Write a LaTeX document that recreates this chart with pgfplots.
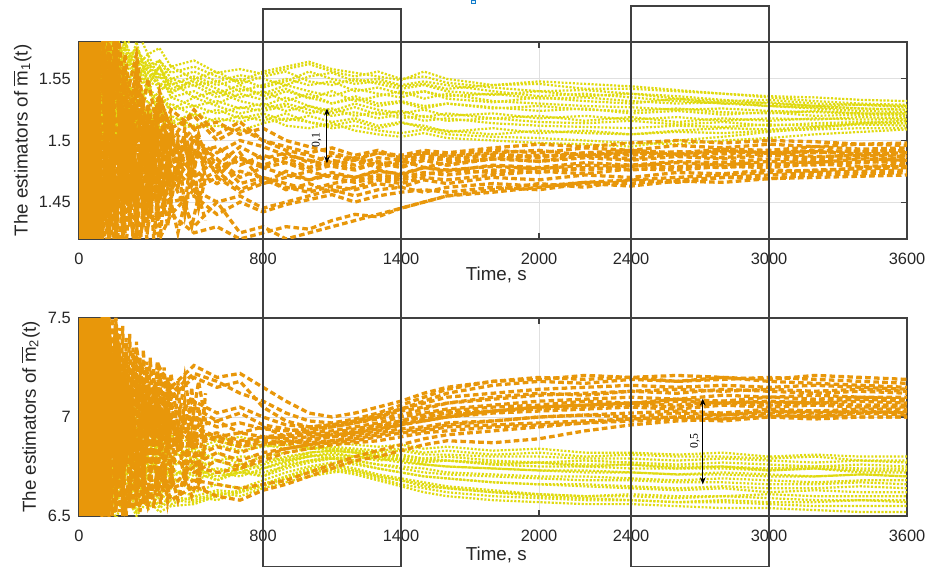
\documentclass[border=0pt]{standalone}
\usepackage{fontspec}
\setmainfont{Liberation Sans}
\newfontfamily\serif{Liberation Serif}
\usepackage{pgfplots}
\usepackage{pgfplotstable}
\pgfplotsset{compat=1.18}
\usetikzlibrary{arrows.meta}

\definecolor{yel}{HTML}{E0DA10}
\definecolor{org}{HTML}{E8970A}
\definecolor{frame}{HTML}{404040}

% one row per simulated estimator, one column per time (s)
\pgfplotstableread[header=has colnames]{
name 100 130 160 200 250 300 350 400 500 600 700 800 900 1000 1100 1200 1300 1400 1500 1600 1800 2000 2200 2400 2600 2800 3000 3200 3400 3600
a 1.60 1.57 1.59 1.56 1.575 1.56 1.565 1.555 1.56 1.552 1.548 1.556 1.560 1.564 1.558 1.555 1.552 1.549 1.556 1.550 1.545 1.546 1.542 1.542 1.540 1.538 1.535 1.532 1.530 1.529
b 1.55 1.585 1.55 1.575 1.55 1.565 1.545 1.55 1.545 1.548 1.540 1.545 1.550 1.545 1.548 1.540 1.543 1.538 1.540 1.536 1.538 1.534 1.535 1.532 1.530 1.531 1.528 1.527 1.526 1.525
c 1.58 1.54 1.57 1.545 1.56 1.54 1.555 1.535 1.54 1.530 1.538 1.533 1.540 1.535 1.530 1.536 1.530 1.532 1.528 1.530 1.526 1.528 1.525 1.524 1.526 1.523 1.522 1.524 1.522 1.521
d 1.52 1.56 1.53 1.55 1.525 1.545 1.52 1.53 1.52 1.525 1.518 1.522 1.516 1.520 1.515 1.518 1.512 1.515 1.510 1.508 1.505 1.508 1.506 1.505 1.508 1.510 1.509 1.511 1.513 1.512
e 1.57 1.60 1.565 1.58 1.55 1.56 1.54 1.548 1.535 1.54 1.532 1.528 1.535 1.528 1.524 1.530 1.525 1.522 1.525 1.520 1.522 1.518 1.520 1.517 1.519 1.516 1.518 1.517 1.519 1.518
f 1.50 1.535 1.51 1.53 1.515 1.525 1.51 1.52 1.512 1.518 1.515 1.520 1.512 1.510 1.514 1.508 1.505 1.503 1.506 1.502 1.500 1.498 1.497 1.495 1.500 1.503 1.507 1.510 1.514 1.516
g 1.59 1.56 1.585 1.565 1.575 1.555 1.565 1.55 1.556 1.548 1.553 1.550 1.545 1.552 1.555 1.548 1.550 1.545 1.548 1.545 1.540 1.536 1.538 1.535 1.532 1.530 1.528 1.526 1.524 1.523
h 1.54 1.51 1.545 1.525 1.54 1.52 1.535 1.525 1.528 1.522 1.527 1.524 1.528 1.522 1.526 1.520 1.523 1.518 1.520 1.516 1.518 1.515 1.514 1.516 1.513 1.515 1.512 1.514 1.515 1.514
i 1.56 1.59 1.555 1.575 1.54 1.555 1.545 1.54 1.545 1.535 1.542 1.538 1.545 1.540 1.536 1.542 1.538 1.535 1.540 1.534 1.531 1.535 1.532 1.530 1.534 1.530 1.531 1.528 1.529 1.527
j 1.53 1.575 1.52 1.555 1.53 1.54 1.525 1.515 1.522 1.515 1.520 1.516 1.522 1.515 1.512 1.516 1.510 1.514 1.512 1.507 1.510 1.506 1.508 1.505 1.507 1.506 1.508 1.509 1.510 1.510
k 1.58 1.55 1.575 1.54 1.565 1.545 1.56 1.538 1.55 1.542 1.535 1.540 1.532 1.538 1.530 1.534 1.528 1.531 1.526 1.530 1.527 1.524 1.526 1.522 1.524 1.521 1.523 1.520 1.521 1.520
l 1.61 1.58 1.60 1.575 1.59 1.57 1.575 1.56 1.565 1.555 1.558 1.554 1.558 1.562 1.556 1.552 1.556 1.550 1.552 1.547 1.543 1.540 1.541 1.538 1.536 1.533 1.530 1.528 1.526 1.525
m 1.585 1.55 1.58 1.56 1.57 1.55 1.56 1.545 1.552 1.545 1.55 1.543 1.548 1.556 1.550 1.546 1.548 1.544 1.546 1.542 1.545 1.548 1.546 1.544 1.541 1.538 1.536 1.535 1.533 1.532
n 1.53 1.56 1.535 1.55 1.53 1.545 1.53 1.535 1.528 1.532 1.526 1.530 1.524 1.528 1.522 1.527 1.521 1.524 1.519 1.522 1.518 1.520 1.516 1.519 1.515 1.518 1.516 1.518 1.517 1.517
o 1.60 1.565 1.59 1.55 1.58 1.545 1.56 1.542 1.548 1.538 1.545 1.536 1.542 1.534 1.540 1.532 1.536 1.540 1.534 1.538 1.532 1.530 1.528 1.527 1.525 1.526 1.524 1.523 1.522 1.522
p 1.51 1.545 1.505 1.535 1.51 1.525 1.505 1.515 1.51 1.512 1.508 1.514 1.518 1.515 1.510 1.512 1.508 1.506 1.509 1.505 1.503 1.502 1.500 1.498 1.497 1.500 1.502 1.505 1.507 1.509
q 1.57 1.59 1.56 1.58 1.56 1.57 1.55 1.56 1.55 1.556 1.546 1.552 1.556 1.548 1.545 1.550 1.546 1.542 1.545 1.540 1.537 1.540 1.536 1.538 1.534 1.532 1.533 1.530 1.529 1.528
r 1.55 1.52 1.56 1.53 1.55 1.53 1.54 1.525 1.535 1.528 1.522 1.526 1.530 1.525 1.520 1.523 1.518 1.521 1.516 1.518 1.514 1.512 1.511 1.510 1.512 1.511 1.513 1.512 1.514 1.514
}\rawTY
\pgfplotstableread[header=has colnames]{
name 100 130 160 200 250 300 350 400 500 600 700 800 900 1000 1100 1200 1300 1400 1500 1600 1800 2000 2200 2400 2600 2800 3000 3200 3400 3600
a 1.62 1.44 1.58 1.46 1.54 1.47 1.52 1.48 1.505 1.48 1.495 1.485 1.49 1.482 1.488 1.484 1.49 1.486 1.49 1.487 1.49 1.492 1.488 1.491 1.489 1.492 1.49 1.491 1.489 1.490
b 1.40 1.56 1.42 1.52 1.43 1.49 1.44 1.47 1.43 1.45 1.425 1.43 1.42 1.425 1.43 1.435 1.44 1.445 1.45 1.455 1.46 1.465 1.462 1.468 1.466 1.47 1.472 1.474 1.475 1.476
c 1.57 1.45 1.60 1.48 1.56 1.46 1.53 1.49 1.51 1.47 1.49 1.465 1.475 1.468 1.472 1.47 1.476 1.472 1.478 1.475 1.48 1.478 1.482 1.48 1.483 1.482 1.485 1.484 1.486 1.485
d 1.50 1.60 1.48 1.57 1.50 1.55 1.50 1.525 1.51 1.515 1.505 1.51 1.50 1.495 1.49 1.485 1.49 1.488 1.492 1.49 1.494 1.497 1.495 1.498 1.50 1.498 1.50 1.499 1.497 1.498
e 1.43 1.58 1.45 1.55 1.44 1.52 1.45 1.50 1.47 1.485 1.465 1.47 1.46 1.465 1.458 1.462 1.468 1.465 1.47 1.468 1.472 1.475 1.473 1.477 1.476 1.479 1.478 1.481 1.479 1.480
f 1.60 1.47 1.56 1.45 1.52 1.49 1.51 1.46 1.49 1.475 1.485 1.478 1.482 1.475 1.48 1.484 1.478 1.482 1.486 1.484 1.488 1.486 1.49 1.492 1.49 1.493 1.492 1.495 1.493 1.494
g 1.46 1.42 1.50 1.43 1.48 1.44 1.47 1.45 1.455 1.44 1.45 1.442 1.448 1.452 1.456 1.45 1.455 1.458 1.46 1.458 1.462 1.46 1.465 1.463 1.467 1.466 1.469 1.47 1.471 1.472
h 1.59 1.50 1.61 1.53 1.57 1.50 1.535 1.51 1.52 1.50 1.51 1.50 1.492 1.488 1.482 1.486 1.48 1.484 1.478 1.482 1.485 1.483 1.486 1.484 1.487 1.485 1.488 1.486 1.489 1.488
i 1.44 1.52 1.43 1.50 1.46 1.51 1.465 1.49 1.475 1.465 1.475 1.47 1.465 1.46 1.465 1.468 1.472 1.47 1.474 1.472 1.476 1.474 1.478 1.476 1.479 1.478 1.481 1.48 1.483 1.482
j 1.42 1.48 1.40 1.46 1.41 1.45 1.42 1.44 1.425 1.43 1.42 1.425 1.43 1.428 1.435 1.44 1.438 1.445 1.45 1.455 1.458 1.462 1.466 1.468 1.47 1.472 1.474 1.476 1.477 1.478
k 1.55 1.46 1.57 1.49 1.54 1.48 1.52 1.495 1.50 1.49 1.50 1.495 1.488 1.484 1.479 1.476 1.482 1.478 1.484 1.48 1.485 1.488 1.487 1.49 1.488 1.491 1.49 1.492 1.491 1.492
l 1.48 1.55 1.44 1.53 1.45 1.50 1.46 1.48 1.46 1.47 1.458 1.465 1.47 1.475 1.47 1.466 1.47 1.468 1.472 1.476 1.474 1.478 1.476 1.48 1.478 1.482 1.48 1.483 1.482 1.484
m 1.58 1.43 1.55 1.47 1.53 1.46 1.51 1.47 1.49 1.478 1.486 1.48 1.486 1.478 1.482 1.477 1.483 1.479 1.484 1.48 1.486 1.483 1.488 1.485 1.489 1.486 1.49 1.487 1.488 1.487
n 1.45 1.57 1.44 1.54 1.45 1.51 1.455 1.49 1.465 1.475 1.46 1.468 1.462 1.458 1.463 1.46 1.465 1.462 1.468 1.465 1.47 1.468 1.472 1.47 1.474 1.473 1.476 1.475 1.478 1.479
o 1.56 1.49 1.59 1.50 1.56 1.49 1.54 1.50 1.525 1.505 1.515 1.50 1.495 1.49 1.494 1.488 1.492 1.486 1.49 1.488 1.492 1.49 1.494 1.492 1.496 1.494 1.497 1.495 1.497 1.496
p 1.47 1.42 1.52 1.44 1.50 1.43 1.48 1.44 1.46 1.45 1.455 1.445 1.45 1.455 1.46 1.455 1.46 1.462 1.458 1.462 1.465 1.463 1.466 1.465 1.468 1.47 1.469 1.472 1.473 1.474
q 1.61 1.52 1.57 1.48 1.55 1.48 1.53 1.47 1.50 1.485 1.47 1.478 1.472 1.468 1.474 1.47 1.475 1.473 1.478 1.476 1.479 1.477 1.48 1.479 1.482 1.48 1.483 1.482 1.485 1.484
r 1.43 1.55 1.46 1.56 1.47 1.53 1.48 1.51 1.49 1.495 1.48 1.488 1.482 1.478 1.484 1.48 1.486 1.484 1.488 1.485 1.489 1.487 1.49 1.488 1.491 1.489 1.492 1.49 1.492 1.491
}\rawTO
\pgfplotstableread[header=has colnames]{
name 100 115 130 145 160 175 190 205 220 235 250 265 280 295 310 325 340 355 370 385 400 430 460 490 520 550
a 1.60 1.46 1.585 1.47 1.57 1.46 1.56 1.47 1.55 1.47 1.545 1.48 1.535 1.47 1.53 1.48 1.525 1.475 1.52 1.48 1.515 1.475 1.51 1.48 1.505 1.485
b 1.41 1.52 1.42 1.51 1.41 1.50 1.42 1.51 1.43 1.50 1.42 1.49 1.43 1.50 1.44 1.49 1.43 1.48 1.44 1.49 1.45 1.48 1.44 1.475 1.445 1.47
c 1.56 1.44 1.55 1.45 1.545 1.44 1.54 1.45 1.53 1.45 1.525 1.46 1.52 1.45 1.51 1.46 1.505 1.46 1.50 1.465 1.50 1.46 1.50 1.465 1.495 1.47
d 1.42 1.59 1.41 1.575 1.42 1.56 1.42 1.55 1.43 1.54 1.43 1.53 1.43 1.52 1.44 1.515 1.44 1.51 1.45 1.505 1.45 1.50 1.445 1.495 1.45 1.49
e 1.53 1.48 1.57 1.49 1.55 1.48 1.54 1.49 1.53 1.48 1.52 1.47 1.51 1.48 1.505 1.47 1.50 1.475 1.495 1.47 1.49 1.475 1.495 1.475 1.49 1.48
f 1.47 1.40 1.48 1.41 1.47 1.40 1.46 1.41 1.47 1.42 1.46 1.41 1.455 1.42 1.46 1.42 1.45 1.425 1.455 1.43 1.45 1.425 1.45 1.43 1.455 1.435
}\rawTE
\pgfplotstableread[header=has colnames]{
name 100 130 160 200 250 300 350 400 500 600 700 800 900 1000 1100 1200 1300 1400 1500 1600 1800 2000 2200 2400 2600 2800 3000 3200 3400 3600
a 7.45 7.10 7.40 7.05 7.20 6.95 7.05 6.90 6.95 6.88 6.90 6.87 6.88 6.86 6.87 6.86 6.85 6.86 6.84 6.85 6.83 6.84 6.82 6.82 6.81 6.82 6.80 6.81 6.80 6.80
b 6.90 7.30 6.80 7.15 6.85 7.00 6.80 6.88 6.78 6.82 6.76 6.80 6.78 6.81 6.79 6.80 6.78 6.79 6.77 6.78 6.76 6.77 6.75 6.76 6.74 6.75 6.73 6.74 6.72 6.72
c 6.60 6.85 6.55 6.75 6.52 6.65 6.55 6.60 6.58 6.62 6.60 6.64 6.67 6.70 6.72 6.73 6.70 6.68 6.66 6.64 6.62 6.60 6.59 6.58 6.57 6.57 6.56 6.55 6.55 6.55
d 7.20 6.75 7.05 6.70 6.95 6.68 6.85 6.66 6.72 6.68 6.74 6.70 6.76 6.78 6.80 6.78 6.76 6.75 6.74 6.72 6.71 6.70 6.70 6.69 6.68 6.69 6.68 6.67 6.68 6.68
e 6.75 7.20 6.70 7.00 6.72 6.90 6.70 6.80 6.70 6.74 6.72 6.76 6.79 6.82 6.83 6.82 6.80 6.81 6.79 6.80 6.78 6.77 6.78 6.77 6.76 6.77 6.76 6.75 6.76 6.75
f 6.55 6.95 6.60 6.85 6.58 6.75 6.60 6.70 6.62 6.66 6.64 6.68 6.72 6.75 6.77 6.76 6.74 6.72 6.70 6.69 6.67 6.66 6.65 6.64 6.63 6.64 6.62 6.63 6.62 6.62
g 7.40 6.90 7.30 6.85 7.10 6.80 6.95 6.75 6.80 6.72 6.76 6.74 6.78 6.80 6.82 6.80 6.79 6.77 6.76 6.75 6.74 6.73 6.72 6.72 6.71 6.71 6.70 6.70 6.71 6.70
h 6.70 6.52 6.80 6.55 6.70 6.53 6.62 6.56 6.60 6.58 6.62 6.66 6.70 6.74 6.76 6.74 6.71 6.69 6.67 6.65 6.63 6.61 6.60 6.60 6.59 6.60 6.59 6.58 6.58 6.58
i 7.00 7.35 6.95 7.20 6.90 7.05 6.85 6.95 6.84 6.88 6.85 6.86 6.84 6.85 6.84 6.83 6.82 6.83 6.81 6.81 6.80 6.80 6.79 6.79 6.78 6.79 6.78 6.77 6.78 6.77
j 6.50 6.70 6.48 6.62 6.50 6.58 6.52 6.55 6.56 6.60 6.63 6.66 6.69 6.72 6.73 6.71 6.68 6.65 6.62 6.60 6.58 6.57 6.56 6.56 6.55 6.54 6.54 6.53 6.52 6.52
k 7.10 6.80 7.00 6.74 6.90 6.72 6.82 6.70 6.74 6.70 6.72 6.72 6.75 6.78 6.79 6.78 6.76 6.74 6.72 6.71 6.70 6.69 6.68 6.68 6.67 6.67 6.66 6.66 6.67 6.66
l 6.65 7.00 6.62 6.90 6.64 6.80 6.66 6.74 6.68 6.72 6.70 6.74 6.77 6.80 6.81 6.80 6.80 6.79 6.78 6.78 6.76 6.75 6.75 6.74 6.74 6.74 6.73 6.74 6.73 6.73
m 7.30 6.85 7.15 6.80 7.00 6.75 6.88 6.70 6.76 6.68 6.72 6.70 6.74 6.77 6.79 6.77 6.74 6.72 6.70 6.69 6.67 6.66 6.66 6.65 6.64 6.65 6.64 6.64 6.65 6.64
n 6.85 7.25 6.82 7.10 6.85 6.98 6.84 6.90 6.82 6.86 6.83 6.85 6.86 6.84 6.85 6.84 6.83 6.84 6.82 6.83 6.81 6.82 6.80 6.81 6.80 6.80 6.79 6.80 6.78 6.78
o 6.62 6.90 6.58 6.80 6.56 6.70 6.58 6.64 6.60 6.63 6.62 6.66 6.70 6.73 6.75 6.73 6.70 6.68 6.65 6.64 6.62 6.61 6.60 6.61 6.60 6.60 6.61 6.60 6.60 6.60
p 7.05 7.40 6.95 7.15 6.85 6.95 6.78 6.84 6.75 6.78 6.74 6.77 6.80 6.82 6.83 6.82 6.80 6.78 6.76 6.75 6.74 6.73 6.73 6.72 6.71 6.72 6.71 6.70 6.71 6.70
q 6.58 6.78 6.54 6.70 6.52 6.62 6.54 6.58 6.57 6.61 6.62 6.65 6.69 6.72 6.74 6.72 6.69 6.66 6.64 6.62 6.60 6.59 6.58 6.58 6.57 6.58 6.57 6.57 6.58 6.57
r 7.25 6.95 7.20 6.90 7.05 6.85 6.95 6.80 6.84 6.78 6.80 6.80 6.82 6.84 6.84 6.83 6.81 6.80 6.79 6.78 6.77 6.77 6.76 6.76 6.75 6.75 6.74 6.75 6.74 6.74
}\rawBY
\pgfplotstableread[header=has colnames]{
name 100 130 160 200 250 300 350 400 500 600 700 800 900 1000 1100 1200 1300 1400 1500 1600 1800 2000 2200 2400 2600 2800 3000 3200 3400 3600
a 7.55 6.80 7.50 6.90 7.35 7.00 7.25 7.10 7.20 7.15 7.18 7.05 6.98 6.95 6.96 6.98 7.00 7.04 7.08 7.12 7.16 7.18 7.17 7.19 7.18 7.20 7.18 7.17 7.16 7.15
b 6.60 7.40 6.70 7.30 6.80 7.15 6.85 7.05 6.95 6.98 6.92 6.95 6.90 6.92 6.90 6.93 6.95 6.97 6.98 7.00 7.02 7.03 7.04 7.05 7.04 7.06 7.05 7.06 7.05 7.05
c 7.20 6.55 7.00 6.55 6.85 6.55 6.75 6.58 6.65 6.60 6.58 6.63 6.66 6.70 6.74 6.78 6.80 6.83 6.86 6.88 6.87 6.89 6.93 6.96 6.98 6.99 7.00 7.01 7.00 7.00
d 7.50 7.00 7.45 6.95 7.25 6.92 7.15 6.95 7.05 6.98 7.02 6.96 6.94 6.92 6.93 6.95 6.97 7.00 7.02 7.04 7.06 7.08 7.09 7.10 7.09 7.11 7.10 7.11 7.10 7.10
e 6.70 7.20 6.65 7.10 6.70 7.00 6.72 6.90 6.80 6.85 6.82 6.86 6.88 6.87 6.88 6.90 6.92 6.94 6.95 6.97 6.98 7.00 7.01 7.00 7.02 7.01 7.03 7.02 7.03 7.02
f 7.30 6.75 7.20 6.80 7.10 6.85 7.00 6.88 6.95 6.90 6.92 6.90 6.91 6.93 6.95 6.97 7.00 7.03 7.05 7.07 7.10 7.12 7.11 7.13 7.12 7.14 7.13 7.12 7.13 7.12
g 6.90 7.50 6.85 7.25 6.90 7.10 6.88 7.00 6.90 6.92 6.88 6.90 6.89 6.90 6.91 6.92 6.94 6.96 6.98 7.00 7.03 7.05 7.06 7.07 7.08 7.07 7.08 7.07 7.08 7.07
h 7.40 7.00 7.35 7.05 7.25 7.10 7.20 7.12 7.22 7.18 7.12 7.08 7.02 6.98 6.97 6.99 7.02 7.06 7.10 7.14 7.18 7.20 7.19 7.20 7.18 7.19 7.20 7.19 7.18 7.17
i 6.55 7.00 6.60 6.95 6.62 6.88 6.65 6.80 6.72 6.78 6.75 6.80 6.84 6.86 6.88 6.89 6.91 6.93 6.94 6.96 6.98 7.00 7.01 7.02 7.03 7.02 7.04 7.03 7.04 7.04
j 7.00 7.45 6.95 7.20 6.90 7.05 6.92 6.96 6.88 6.90 6.86 6.88 6.87 6.89 6.90 6.92 6.95 6.98 7.01 7.03 7.05 7.06 7.08 7.07 7.09 7.08 7.10 7.09 7.10 7.09
k 6.80 6.52 6.75 6.55 6.70 6.60 6.72 6.65 6.75 6.72 6.74 6.78 6.82 6.84 6.86 6.87 6.88 6.90 6.92 6.93 6.95 6.96 6.97 6.98 6.99 6.98 7.00 6.99 7.00 7.00
l 7.45 6.90 7.30 6.85 7.15 6.90 7.05 6.92 7.00 6.95 6.97 6.94 6.93 6.94 6.95 6.97 6.99 7.01 7.04 7.07 7.09 7.11 7.12 7.13 7.14 7.13 7.14 7.13 7.14 7.13
m 7.35 6.70 7.25 6.75 7.15 6.80 7.05 6.85 6.92 6.88 6.85 6.87 6.86 6.88 6.90 6.91 6.93 6.96 6.99 7.01 7.03 7.05 7.06 7.07 7.06 7.08 7.07 7.08 7.09 7.08
n 6.65 7.30 6.60 7.15 6.65 7.00 6.68 6.90 6.76 6.82 6.78 6.82 6.84 6.86 6.87 6.88 6.90 6.92 6.93 6.95 6.96 6.97 6.98 6.99 7.00 6.99 7.01 7.00 7.02 7.01
o 7.50 7.10 7.45 7.15 7.30 7.20 7.25 7.15 7.26 7.20 7.22 7.15 7.08 7.02 7.00 7.02 7.05 7.08 7.12 7.15 7.18 7.19 7.21 7.20 7.21 7.20 7.19 7.21 7.20 7.19
p 6.85 7.35 6.80 7.20 6.82 7.05 6.84 6.95 6.86 6.90 6.87 6.89 6.90 6.91 6.92 6.94 6.96 6.98 7.00 7.02 7.03 7.04 7.05 7.06 7.05 7.07 7.06 7.07 7.06 7.06
q 6.75 6.55 6.85 6.60 6.75 6.62 6.70 6.64 6.68 6.66 6.64 6.66 6.68 6.72 6.76 6.80 6.83 6.86 6.89 6.91 6.93 6.95 6.97 6.99 7.00 7.01 7.02 7.03 7.02 7.03
r 7.25 6.85 7.40 6.95 7.20 6.98 7.12 7.00 7.08 7.02 7.05 7.00 6.96 6.95 6.96 6.98 7.01 7.04 7.07 7.10 7.12 7.14 7.15 7.16 7.15 7.16 7.15 7.16 7.15 7.14
}\rawBO
\pgfplotstableread[header=has colnames]{
name 100 115 130 145 160 175 190 205 220 235 250 265 280 295 310 325 340 355 370 385 400 430 460 490 520 550
a 7.55 6.85 7.52 6.88 7.50 6.86 7.46 6.90 7.42 6.88 7.38 6.90 7.34 6.92 7.30 6.90 7.28 6.92 7.25 6.93 7.22 6.95 7.20 6.96 7.18 6.98
b 6.48 7.15 6.50 7.10 6.52 7.08 6.50 7.05 6.54 7.02 6.55 7.00 6.56 6.98 6.58 6.96 6.60 6.95 6.62 6.92 6.64 6.92 6.65 6.90 6.67 6.88
c 7.40 6.70 7.38 6.72 7.35 6.72 7.30 6.75 7.28 6.75 7.25 6.78 7.20 6.78 7.18 6.80 7.15 6.80 7.12 6.82 7.10 6.82 7.08 6.84 7.05 6.85
d 6.50 7.55 6.48 7.50 6.52 7.45 6.50 7.40 6.55 7.35 6.55 7.30 6.58 7.28 6.60 7.25 6.62 7.22 6.64 7.20 6.66 7.18 6.68 7.15 6.70 7.12
e 7.10 6.80 7.20 6.82 7.15 6.84 7.12 6.83 7.10 6.85 7.08 6.84 7.05 6.86 7.04 6.85 7.02 6.87 7.00 6.86 6.98 6.87 6.98 6.86 6.96 6.87
f 6.85 6.48 6.88 6.50 6.84 6.52 6.82 6.50 6.80 6.53 6.78 6.52 6.80 6.55 6.76 6.54 6.75 6.56 6.74 6.58 6.72 6.58 6.72 6.60 6.70 6.62
}\rawBE
\pgfplotstabletranspose[colnames from=name,input colnames to=t]\tabTY{\rawTY}
\pgfplotstabletranspose[colnames from=name,input colnames to=t]\tabTO{\rawTO}
\pgfplotstabletranspose[colnames from=name,input colnames to=t]\tabTE{\rawTE}
\pgfplotstabletranspose[colnames from=name,input colnames to=t]\tabBY{\rawBY}
\pgfplotstabletranspose[colnames from=name,input colnames to=t]\tabBO{\rawBO}
\pgfplotstabletranspose[colnames from=name,input colnames to=t]\tabBE{\rawBE}

\pgfplotsset{
  est/.style={
    scale only axis, width=12.42cm,
    xmin=0, xmax=3600,
    xtick={0,800,1400,2000,2400,3000,3600},
    tick align=inside, xtick pos=both, ytick pos=both,
    major tick length=0.09cm,
    grid=major, grid style={draw=black!12, line width=0.4pt},
    axis line style={draw=frame, line width=0.45pt},
    tick style={draw=frame, line width=0.45pt},
    /pgf/number format/assume math mode=true,
    /pgf/number format/1000 sep={},
    ticklabel style={font=\fontsize{7}{8}\selectfont, text=black!85},
    xticklabel style={yshift=-2.5pt},
    label style={font=\fontsize{8}{9.6}\selectfont, text=black!85},
    xlabel={Time, s},
  },
  yline/.style={yel, line width=0.95pt, dash pattern=on 0.9pt off 0.7pt},
  oline/.style={org, line width=1.4pt, dash pattern=on 2.4pt off 1.4pt},
}

\begin{document}
\begin{tikzpicture}
\useasboundingbox (-1.185,-4.935) rectangle (12.735,3.585);

\begin{axis}[est, at={(0,0)}, anchor=south west, height=2.955cm,
  ymin=1.42, ymax=1.58, ytick={1.45,1.5,1.55},
  xlabel style={at={(axis description cs:0.504,0)}, anchor=center, yshift=-0.54cm},
  ylabel={The estimators of $\overline{\mbox{m}}_{\mbox{\fontsize{5.5}{6}\selectfont 1}}$(t)},
  ylabel style={at={(axis description cs:-0.062,0.5)}, anchor=base}]
  \addplot[fill=org, draw=none] coordinates {(0,1.42) (0,1.58) (100,1.58) (100,1.42)};
  \pgfplotsinvokeforeach{a,b,c,d,e,f}{\addplot[oline] table[x=t,y=#1]{\tabTE};}
  \pgfplotsinvokeforeach{a,b,c,d,e,f,g,h,i,j,k,l,m,n,o,p,q,r}{\addplot[yline] table[x=t,y=#1]{\tabTY};}
  \pgfplotsinvokeforeach{a,b,c,d,e,f,g,h,i,j,k,l,m,n,o,p,q,r}{\addplot[oline] table[x=t,y=#1]{\tabTO};}
  \draw[{Stealth[length=3pt,width=2.4pt]}-{Stealth[length=3pt,width=2.4pt]}, line width=0.4pt]
    (axis cs:1078,1.526) -- (axis cs:1078,1.4815);
  \node[rotate=90, font=\serif\fontsize{5}{6}\selectfont] at (axis cs:1033,1.5004) {0,1};
\end{axis}

\begin{axis}[est, at={(0,-4.155cm)}, anchor=south west, height=2.97cm,
  ymin=6.5, ymax=7.5, ytick={6.5,7,7.5},
  xlabel style={at={(axis description cs:0.504,0)}, anchor=center, yshift=-0.585cm},
  ylabel={The estimators of $\overline{\mbox{m}}_{\mbox{\fontsize{5.5}{6}\selectfont 2}}$(t)},
  ylabel style={at={(axis description cs:-0.052,0.5)}, anchor=base}]
  \pgfplotsinvokeforeach{a,b,c,d,e,f,g,h,i,j,k,l,m,n,o,p,q,r}{\addplot[yline] table[x=t,y=#1]{\tabBY};}
  \addplot[fill=org, draw=none] coordinates {(0,6.5) (0,7.5) (130,7.5) (130,6.5)};
  \pgfplotsinvokeforeach{a,b,c,d,e,f}{\addplot[oline] table[x=t,y=#1]{\tabBE};}
  \pgfplotsinvokeforeach{a,b,c,d,e,f,g,h,i,j,k,l,m,n,o,p,q,r}{\addplot[oline] table[x=t,y=#1]{\tabBO};}
  \draw[{Stealth[length=3pt,width=2.4pt]}-{Stealth[length=3pt,width=2.4pt]}, line width=0.4pt]
    (axis cs:2712,7.093) -- (axis cs:2712,6.66);
  \node[rotate=90, font=\serif\fontsize{5}{6}\selectfont] at (axis cs:2678,6.878) {0,5};
\end{axis}

% the two time windows drawn across both panels
\draw[frame, line width=0.5pt] (2.76,3.45) rectangle (4.83,-4.91);
\draw[frame, line width=0.5pt] (8.28,3.495) rectangle (10.35,-4.91);
\draw[cyan!60!blue, line width=0.3pt, fill=cyan!10] (5.88,3.535) rectangle (5.94,3.585);
\end{tikzpicture}
\end{document}
